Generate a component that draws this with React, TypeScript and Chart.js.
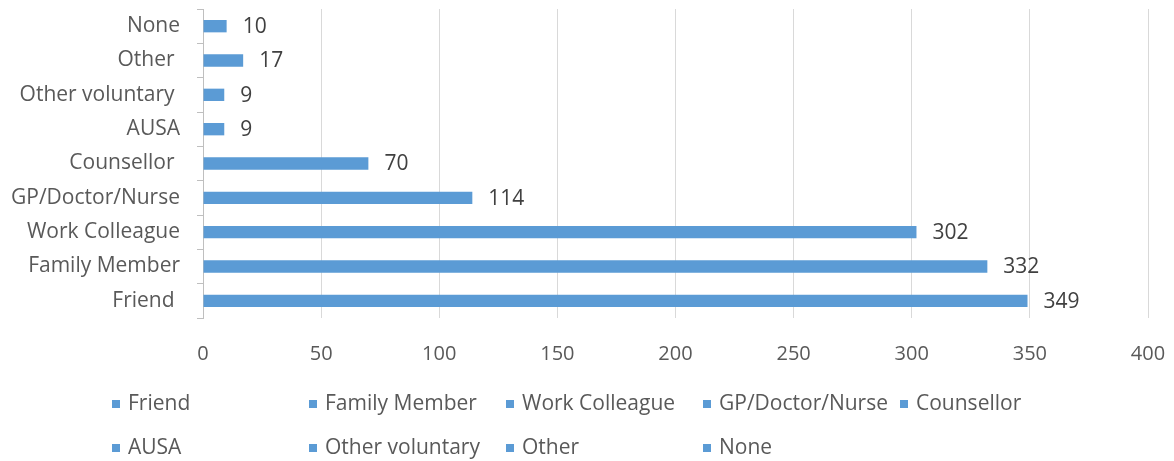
import React, { useEffect, useRef } from "react";
import { Chart, registerables } from "chart.js";

Chart.register(...registerables);

const categories: string[] = [
  "Friend ",
  "Family Member",
  "Work Colleague",
  "GP/Doctor/Nurse",
  "Counsellor ",
  "AUSA",
  "Other voluntary ",
  "Other ",
  "None",
];
const values: number[] = [349, 332, 302, 114, 70, 9, 9, 17, 10];
const xTicks: number[] = [0, 50, 100, 150, 200, 250, 300, 350, 400];

const BAR_COLOR = "#5B9BD5";
const TEXT_COLOR = "#595959";
const LABEL_COLOR = "#404040";
const FONT = "'Open Sans', 'Noto Sans', sans-serif";

const valueLabels = {
  id: "valueLabels",
  afterDatasetsDraw(chart: any) {
    const ctx = chart.ctx;
    const meta = chart.getDatasetMeta(0);
    ctx.save();
    ctx.fillStyle = LABEL_COLOR;
    ctx.font = `21px ${FONT}`;
    ctx.textAlign = "left";
    ctx.textBaseline = "middle";
    meta.data.forEach((bar: any, i: number) => {
      ctx.fillText(String(values[i]), bar.x + 16, bar.y + 1);
    });
    ctx.restore();
  },
};

const gridLegend = {
  id: "gridLegend",
  afterDraw(chart: any) {
    const ctx = chart.ctx;
    ctx.save();
    ctx.font = `21px ${FONT}`;
    ctx.textAlign = "left";
    ctx.textBaseline = "middle";
    categories.forEach((label, i) => {
      const col = i % 5;
      const row = Math.floor(i / 5);
      const x = 112 + col * 197;
      const y = 404 + row * 44;
      ctx.fillStyle = BAR_COLOR;
      ctx.fillRect(x, y - 4, 8, 8);
      ctx.fillStyle = TEXT_COLOR;
      ctx.fillText(label.trim(), x + 16, y);
    });
    ctx.restore();
  },
};

export default function App() {
  const ref = useRef<HTMLCanvasElement | null>(null);

  useEffect(() => {
    if (!ref.current) return;
    const chart = new Chart(ref.current, {
      type: "bar",
      data: {
        labels: categories,
        datasets: [
          {
            data: values,
            backgroundColor: BAR_COLOR,
            categoryPercentage: 1,
            barPercentage: 0.36,
          },
        ],
      },
      options: {
        indexAxis: "y",
        animation: false,
        responsive: false,
        maintainAspectRatio: false,
        layout: { padding: { top: 9, right: 26, bottom: 93, left: 0 } },
        plugins: {
          legend: { display: false },
          tooltip: { enabled: false },
        },
        scales: {
          x: {
            min: 0,
            max: 400,
            afterBuildTicks: (axis: any) => {
              axis.ticks = xTicks.map((v) => ({ value: v }));
            },
            afterFit: (axis: any) => {
              axis.height = 50;
              axis.paddingLeft = 0;
              axis.paddingRight = 0;
            },
            grid: { color: "#D9D9D9", drawTicks: false, lineWidth: 1 },
            border: { display: false },
            ticks: {
              color: TEXT_COLOR,
              font: { family: FONT, size: 20 },
              padding: 24,
            },
          },
          y: {
            reverse: true,
            afterFit: (axis: any) => {
              axis.width = 203;
              axis.paddingTop = 0;
              axis.paddingBottom = 0;
            },
            grid: {
              drawOnChartArea: false,
              drawTicks: true,
              tickLength: 6,
              color: "#BFBFBF",
              offset: true,
            },
            border: { display: true, color: "#BFBFBF" },
            ticks: {
              color: TEXT_COLOR,
              font: { family: FONT, size: 21 },
              padding: 17,
              autoSkip: false,
            },
          },
        },
      },
      plugins: [valueLabels, gridLegend],
    });
    return () => chart.destroy();
  }, []);

  return (
    <div style={{ position: "absolute", left: 0, top: 0, width: 1174, height: 461, background: "#fff" }}>
      <canvas ref={ref} width={1174} height={461} style={{ width: 1174, height: 461 }} />
    </div>
  );
}
